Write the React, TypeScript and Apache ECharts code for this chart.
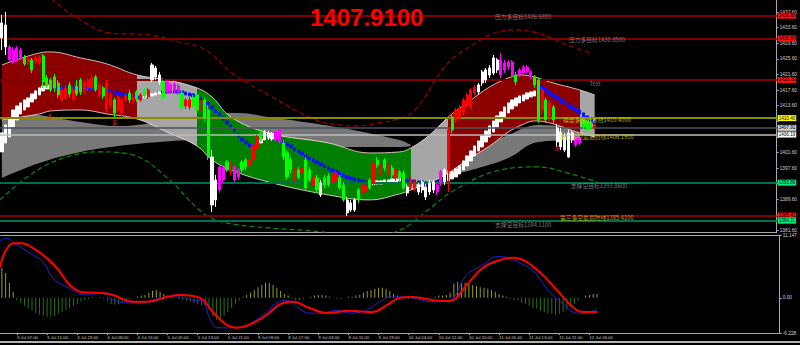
import React, { useEffect, useRef } from "react";
import * as echarts from "echarts";

// ---------- axis definitions ----------
const SLOT_COUNT = 207; // bar slots across the main chart width (incl. right shift space)
const timeLabels = [
  "3 Jul 07:00", "3 Jul 15:00", "3 Jul 23:00", "4 Jul 08:00", "4 Jul 16:00",
  "5 Jul 05:00", "5 Jul 13:00", "5 Jul 21:00", "8 Jul 09:00", "8 Jul 17:00",
  "9 Jul 03:00", "9 Jul 11:00", "9 Jul 19:00", "10 Jul 04:00", "10 Jul 12:00",
  "10 Jul 20:00", "11 Jul 05:00", "11 Jul 13:00", "11 Jul 21:00", "12 Jul 06:00",
];
const timeLabelBars = [4, 12, 20, 28, 36, 44, 52, 60, 68, 76, 84, 92, 100, 108, 116, 124, 132, 140, 148, 156];
const priceTicks = [1381.6, 1385.6, 1389.6, 1393.6, 1397.6, 1401.6, 1405.6, 1409.6, 1413.6, 1417.6, 1421.6, 1425.6, 1429.6, 1433.6, 1437.6];
// tick labels left visible (the others sit under the level boxes)
const priceLabels = [1381.6, 1389.6, 1397.6, 1401.6, 1413.6, 1417.6, 1421.6, 1425.6, 1429.6, 1433.6, 1437.6];
const macdTicks = [-6.228, 0, 11.147];
const lastPriceText = "1407.9100";

// ---------- candles: [open, close, low, high] ----------
const candles = [
  [1434.81, 1430.97, 1427.89, 1436.86], [1434.30, 1428.66, 1426.61, 1437.63], [1428.66, 1425.33, 1424.81, 1429.17], [1427.89, 1424.81, 1424.30, 1428.66], [1428.40, 1425.84, 1424.81, 1428.92],
  [1427.89, 1426.09, 1425.33, 1428.40], [1426.09, 1424.30, 1423.79, 1426.61], [1425.58, 1424.56, 1424.04, 1426.09], [1425.33, 1422.76, 1421.99, 1425.84], [1425.84, 1424.81, 1424.30, 1426.35],
  [1426.09, 1424.56, 1424.04, 1426.61], [1426.35, 1419.68, 1418.15, 1426.86], [1420.71, 1418.66, 1418.15, 1421.48], [1420.20, 1417.63, 1417.12, 1420.71], [1420.97, 1418.15, 1417.12, 1421.73],
  [1419.43, 1416.35, 1415.58, 1420.20], [1417.63, 1415.07, 1414.56, 1418.40], [1418.15, 1415.58, 1415.07, 1418.92], [1418.92, 1416.61, 1415.84, 1419.68], [1417.63, 1415.33, 1414.81, 1418.40],
  [1418.66, 1416.61, 1416.09, 1420.20], [1420.20, 1417.12, 1416.35, 1420.71], [1419.43, 1417.63, 1416.86, 1420.20], [1420.20, 1418.15, 1417.38, 1420.71], [1420.71, 1418.15, 1417.63, 1421.48],
  [1420.97, 1417.63, 1417.12, 1421.48], [1418.92, 1416.35, 1415.58, 1419.68], [1418.15, 1416.09, 1415.33, 1418.66], [1419.43, 1412.50, 1411.99, 1420.20], [1416.35, 1413.79, 1413.02, 1417.12],
  [1415.07, 1411.74, 1410.71, 1415.58], [1415.84, 1412.50, 1411.99, 1416.35], [1415.07, 1411.74, 1410.97, 1415.58], [1416.09, 1415.07, 1414.56, 1416.61], [1416.86, 1415.07, 1414.30, 1417.63],
  [1415.84, 1414.81, 1414.04, 1416.61], [1417.12, 1415.33, 1414.56, 1417.63], [1416.35, 1415.07, 1414.56, 1416.86], [1417.63, 1416.09, 1415.58, 1418.15], [1417.63, 1415.84, 1415.33, 1418.15],
  [1424.04, 1420.20, 1419.68, 1424.56], [1423.27, 1420.97, 1420.20, 1423.79], [1421.48, 1419.68, 1418.92, 1422.25], [1419.68, 1415.84, 1415.07, 1420.20], [1419.68, 1417.12, 1416.61, 1420.20],
  [1418.92, 1417.38, 1416.61, 1419.43], [1419.17, 1417.63, 1416.86, 1419.68], [1418.66, 1417.12, 1416.35, 1419.17], [1416.86, 1413.02, 1411.99, 1417.63], [1415.07, 1413.53, 1412.76, 1415.58],
  [1415.07, 1413.27, 1412.50, 1415.84], [1415.58, 1413.53, 1413.02, 1416.35], [1416.35, 1412.50, 1411.74, 1416.86], [1414.30, 1412.50, 1411.99, 1415.07], [1415.07, 1410.45, 1409.68, 1415.58],
  [1412.50, 1400.45, 1399.68, 1413.79], [1400.45, 1388.15, 1386.35, 1402.25], [1394.55, 1389.43, 1387.63, 1395.84], [1397.89, 1391.99, 1391.22, 1398.40], [1397.63, 1394.55, 1393.79, 1398.40],
  [1399.17, 1397.12, 1396.61, 1399.68], [1398.66, 1396.61, 1395.84, 1399.17], [1397.89, 1394.55, 1394.04, 1398.40], [1397.12, 1395.33, 1394.55, 1397.63], [1399.17, 1397.12, 1396.35, 1399.68],
  [1399.68, 1397.89, 1397.12, 1400.20], [1399.68, 1398.15, 1397.63, 1400.45], [1403.53, 1399.68, 1399.17, 1404.81], [1405.33, 1403.02, 1402.25, 1406.09], [1406.61, 1404.81, 1404.30, 1407.38],
  [1406.86, 1405.58, 1405.07, 1407.38], [1406.61, 1405.33, 1404.81, 1407.12], [1406.35, 1405.07, 1404.55, 1406.86], [1406.86, 1404.81, 1404.30, 1407.38], [1407.38, 1404.30, 1403.79, 1407.89],
  [1404.04, 1400.45, 1399.68, 1404.81], [1401.48, 1395.33, 1394.55, 1402.25], [1399.68, 1397.12, 1396.35, 1400.45], [1397.12, 1394.55, 1394.04, 1397.63], [1397.12, 1395.33, 1394.81, 1397.89],
  [1397.63, 1396.35, 1395.58, 1398.40], [1399.68, 1392.50, 1391.99, 1400.45], [1397.12, 1394.55, 1394.04, 1397.89], [1395.33, 1393.27, 1392.76, 1396.09], [1395.07, 1391.99, 1391.22, 1395.84],
  [1393.79, 1390.71, 1390.20, 1394.55], [1395.07, 1393.27, 1392.50, 1395.84], [1395.58, 1393.27, 1392.76, 1396.35], [1395.84, 1393.79, 1393.02, 1396.61], [1396.35, 1394.04, 1393.53, 1397.12],
  [1395.07, 1392.50, 1391.99, 1395.84], [1393.27, 1389.43, 1388.92, 1394.04], [1389.43, 1386.10, 1385.33, 1390.20], [1388.66, 1386.86, 1386.35, 1389.43], [1389.43, 1386.86, 1386.35, 1389.94],
  [1391.99, 1389.43, 1388.66, 1392.50], [1393.27, 1391.22, 1390.45, 1393.79], [1393.27, 1391.48, 1390.71, 1393.79], [1394.55, 1392.50, 1391.99, 1395.07], [1398.92, 1393.79, 1393.02, 1399.68],
  [1399.68, 1398.40, 1397.63, 1400.45], [1398.40, 1396.35, 1395.58, 1398.92], [1399.68, 1397.63, 1396.86, 1400.20], [1398.40, 1396.61, 1395.84, 1398.92], [1397.63, 1395.84, 1395.07, 1398.40],
  [1397.12, 1395.07, 1394.30, 1397.63], [1396.61, 1395.07, 1394.30, 1397.12], [1396.35, 1392.50, 1391.99, 1397.12], [1392.76, 1391.22, 1390.45, 1393.53], [1394.55, 1392.76, 1391.99, 1395.07],
  [1394.04, 1392.50, 1391.74, 1394.55], [1393.27, 1391.48, 1390.71, 1393.79], [1394.04, 1391.99, 1391.22, 1394.55], [1392.76, 1390.20, 1389.43, 1393.53], [1393.79, 1391.48, 1390.71, 1394.55],
  [1394.04, 1391.99, 1391.22, 1394.55], [1393.27, 1391.48, 1390.71, 1393.79], [1396.61, 1393.79, 1393.02, 1397.12], [1397.12, 1394.55, 1393.27, 1397.63], [1407.38, 1397.12, 1391.48, 1407.89],
  [1410.71, 1407.38, 1406.61, 1411.48], [1412.50, 1409.94, 1409.17, 1413.02], [1413.02, 1410.45, 1409.68, 1413.79], [1415.07, 1411.74, 1410.97, 1415.58], [1416.35, 1413.79, 1413.02, 1416.86],
  [1417.63, 1413.27, 1412.50, 1418.15], [1418.40, 1416.86, 1416.09, 1418.92], [1418.92, 1417.12, 1416.35, 1419.43], [1422.25, 1419.43, 1418.66, 1422.76], [1422.76, 1420.20, 1419.43, 1423.27],
  [1423.27, 1421.48, 1420.71, 1424.04], [1425.84, 1421.99, 1421.48, 1426.61], [1425.33, 1422.76, 1421.99, 1425.84], [1425.33, 1421.48, 1420.71, 1427.12], [1424.56, 1422.76, 1421.99, 1425.33],
  [1424.81, 1423.53, 1422.76, 1425.33], [1424.81, 1421.48, 1420.71, 1425.33], [1421.48, 1419.68, 1418.92, 1422.25], [1422.76, 1421.48, 1420.97, 1423.27], [1423.53, 1421.99, 1421.48, 1424.04],
  [1423.53, 1422.25, 1421.73, 1424.04], [1422.25, 1420.97, 1420.45, 1422.76], [1420.97, 1418.92, 1418.15, 1421.48], [1420.20, 1409.94, 1409.17, 1420.71], [1417.63, 1412.50, 1411.22, 1418.40],
  [1415.07, 1409.94, 1409.17, 1415.58], [1414.30, 1410.45, 1409.68, 1415.07], [1413.27, 1409.94, 1408.91, 1413.79], [1407.89, 1404.30, 1403.02, 1408.91], [1406.86, 1403.02, 1402.25, 1407.89],
  [1405.58, 1402.25, 1401.74, 1406.61], [1406.61, 1400.45, 1400.20, 1407.38], [1406.61, 1404.81, 1404.04, 1407.12], [1405.58, 1403.53, 1403.02, 1406.09], [1405.33, 1404.04, 1403.53, 1405.84],
  [1409.94, 1408.15, 1407.63, 1410.45], [1409.17, 1407.38, 1406.86, 1409.94], [1409.43, 1407.89, 1407.38, 1410.20], [1408.66, 1407.91, 1407.63, 1408.91],
];
// W white, R red, G green, M magenta (indicator colouring of each candle)
const candleColors =
  "WWMMMMGRGR" + "RGGGGGRRGR" + "GGRRRGRGRR" + "GRRRGRGRGR" + "WWWGMMMMGR" +
  "RGGRGGWWMM" + "GRMMGGRRRG" + "WWWMMGGGRG" + "RGGRGWGGRR" + "GGWWWGRRGR" +
  "GRGRGRGGWR" + "RWWWWWMMWR" + "GRRRRRRWWW" + "WWWMMMMGMM" + "MMGGRGRGWW" + "WWWMMGGGR";

// ---------- trend blocks (white rising / blue falling) ----------
const maTop = [
  1406.61, 1408.66, 1410.45, 1412.50, 1413.53, 1414.30, 1415.07, 1415.58, 1416.61, 1417.38, 1418.15, 1418.66, 1418.92,
  1418.66, 1418.66,
  1418.40, 1418.40, 1418.40, 1418.40, 1418.40, 1418.40, 1418.40, 1418.40, 1418.40, 1418.40, 1418.40,
  1418.15, 1418.15,
  1417.89, 1417.63, 1417.38, 1417.12, 1416.86, 1416.61, 1416.35, 1416.35, 1416.09, 1416.09,
  1416.09, 1416.35, 1416.61, 1416.86, 1417.12,
  1417.38,
  1417.63, 1417.63, 1417.63, 1417.63,
  1417.38, 1417.12, 1416.86, 1416.61, 1416.09, 1415.84, 1415.33, 1414.56, 1413.53, 1412.50, 1411.74, 1410.71, 1409.68, 1408.66, 1407.63, 1406.35, 1405.33, 1404.55, 1403.79, 1403.53,
  1404.30, 1405.07, 1405.84, 1406.35, 1406.35,
  1405.58, 1405.07, 1404.55, 1404.04, 1403.53, 1402.76, 1402.25, 1401.74, 1400.97, 1400.45, 1399.94, 1399.43, 1398.92, 1398.40, 1397.89, 1397.38, 1397.12, 1396.61, 1396.09, 1395.58, 1395.33, 1395.07, 1394.81, 1394.55, 1394.30, 1394.04,
  1394.04, 1394.30, 1394.30, 1394.55, 1394.55, 1394.81, 1394.81, 1395.07,
  1395.07, 1394.81, 1394.55, 1394.55, 1394.30, 1394.30, 1394.04, 1394.04, 1394.04, 1394.30, 1394.55,
  1395.58, 1396.09, 1396.61, 1397.38, 1398.15, 1399.43, 1400.71, 1401.99, 1403.27, 1404.55, 1405.84, 1407.12, 1408.40, 1409.68, 1410.97, 1411.99, 1413.27, 1414.30, 1415.07, 1415.58, 1416.09, 1416.35, 1416.86, 1417.12, 1417.38,
  1419.17, 1418.66, 1418.15, 1417.38, 1416.61, 1416.09, 1415.33, 1414.81, 1414.30, 1413.79, 1413.02, 1412.50, 1411.74, 1410.97, 1410.20, 1409.43,
];
const maBottom = [
  1401.74, 1404.04, 1405.58, 1408.15, 1409.94, 1411.48, 1412.50, 1413.27, 1414.56, 1415.33, 1416.35, 1417.38, 1417.89,
  1417.89, 1417.89,
  1417.63, 1417.63, 1417.63, 1417.63, 1417.63, 1417.63, 1417.63, 1417.63, 1417.63, 1417.63, 1417.63,
  1417.38, 1417.38,
  1417.12, 1416.86, 1416.61, 1416.35, 1416.09, 1415.84, 1415.58, 1415.58, 1415.33, 1415.33,
  1415.58, 1415.84, 1416.09, 1416.35, 1416.61,
  1416.86,
  1416.86, 1416.86, 1416.86, 1416.86,
  1416.61, 1416.35, 1416.09, 1415.84, 1415.33, 1415.07, 1414.56, 1413.79, 1412.76, 1411.74, 1410.97, 1409.94, 1408.91, 1407.89, 1406.86, 1405.58, 1404.55, 1403.79, 1403.02, 1402.76,
  1403.27, 1404.04, 1404.81, 1405.33, 1405.58,
  1404.81, 1404.30, 1403.79, 1403.27, 1402.76, 1401.99, 1401.48, 1400.97, 1400.20, 1399.68, 1399.17, 1398.66, 1398.15, 1397.63, 1397.12, 1396.61, 1396.35, 1395.84, 1395.33, 1394.81, 1394.55, 1394.30, 1394.04, 1393.79, 1393.53, 1393.27,
  1393.27, 1393.53, 1393.53, 1393.79, 1393.79, 1394.04, 1394.04, 1394.30,
  1394.30, 1394.04, 1393.79, 1393.79, 1393.53, 1393.53, 1393.27, 1393.27, 1393.27, 1393.53, 1393.79,
  1393.79, 1394.30, 1394.81, 1395.33, 1396.09, 1397.12, 1398.15, 1399.43, 1400.71, 1401.99, 1403.02, 1404.30, 1405.58, 1406.86, 1408.15, 1409.43, 1410.71, 1411.74, 1412.76, 1413.53, 1414.30, 1414.81, 1415.33, 1415.84, 1416.09,
  1418.15, 1417.63, 1417.12, 1416.35, 1415.58, 1415.07, 1414.30, 1413.79, 1413.27, 1412.76, 1411.99, 1411.48, 1410.71, 1409.94, 1409.17, 1408.40,
];
const maRuns: [string, number][] = [["W", 13], ["B", 25], ["W", 5], ["B", 25], ["W", 5], ["B", 26], ["W", 8], ["B", 11], ["W", 25], ["B", 16]];

// ---------- channel (coloured band) ----------
const channelBars = [0, 10, 13, 21, 28, 36, 44, 52, 56, 61, 71, 87, 98, 106, 109, 114, 119, 124, 130, 135, 138, 142, 146, 154, 158];
const channelUpper = [1424.04, 1427.12, 1427.38, 1425.84, 1424.30, 1421.48, 1420.20, 1418.15, 1415.84, 1410.71, 1406.61, 1404.04, 1401.48, 1401.74, 1402.76, 1406.09, 1410.71, 1414.30, 1418.40, 1420.71, 1421.48, 1420.97, 1419.68, 1417.63, 1416.35];
const channelLower = [1409.94, 1411.48, 1412.25, 1412.50, 1411.48, 1410.20, 1406.86, 1403.27, 1399.68, 1397.12, 1394.04, 1390.71, 1389.43, 1390.97, 1391.99, 1393.79, 1396.35, 1399.68, 1403.27, 1406.86, 1408.40, 1409.68, 1409.17, 1406.61, 1405.58];
// trend state of the channel: bar index where each section starts
const channelSectionStart = [0, 36, 52, 109, 119, 154];
const channelSectionState = ["up", "flat", "down", "flat", "up", "flat"];

// ---------- shadow band (grey) ----------
const shadeBars1 = [0, 10, 21, 31, 42, 53, 63, 71, 89, 106, 109];
const shadeUpper1 = [1413.02, 1411.22, 1409.43, 1408.40, 1409.43, 1411.22, 1411.74, 1410.71, 1408.15, 1404.81, 1403.53];
const shadeLower1 = [1395.07, 1398.92, 1401.74, 1403.27, 1404.30, 1404.81, 1404.55, 1404.04, 1403.02, 1403.02, 1403.27];
const shadeBars2 = [119, 127, 135, 143, 154];
const shadeUpper2 = [1399.68, 1402.76, 1406.09, 1408.66, 1407.89];
const shadeLower2 = [1395.58, 1397.63, 1400.20, 1404.30, 1404.81];

// ---------- outer envelopes (dashed) [bar, price] ----------
const outerUpper = [
  [10.1, 1443.8], [13.6, 1440.71], [18.9, 1436.86], [28.7, 1432.25], [39.3, 1431.74], [47.2, 1429.94], [54.4, 1427.89],
  [61.3, 1421.99], [71.1, 1416.35], [82.5, 1410.45], [89.7, 1408.66], [95, 1408.4], [100.3, 1409.17], [104.8, 1409.94],
  [110.1, 1412.5], [118.9, 1424.56], [126.8, 1429.94], [131.3, 1432.25], [136.6, 1433.02], [142.7, 1432.25], [150.7, 1429.17], [156.8, 1427.12],
];
const outerLower = [
  [-0.5, 1389.43], [8.3, 1396.35], [17.3, 1400.45], [26, 1401.74], [34.8, 1400.97], [43.8, 1395.33], [52.6, 1386.86],
  [57, 1384.3], [63.2, 1383.02], [71.1, 1382.25], [85.2, 1381.22], [95, 1379.69], [105.6, 1381.48], [113.6, 1386.86],
  [120.7, 1391.99], [132.9, 1397.12], [142.7, 1397.89], [150.7, 1396.35], [158.6, 1394.04],
];

// ---------- horizontal levels ----------
const levelValues = [1436.68, 1430.85, 1420.2, 1410.4, 1407.91, 1406.19, 1393.86, 1385.41, 1384.11];
const levelKinds = ["resist", "resist", "resist", "pivot", "bid", "defense", "support", "resist", "support"];

// ---------- text annotations ----------
const annotationTexts = ["压力多目标1436.6800", "压力多目标1430.8500", "Text", "操盘多空分水线1410.4000", "第二多空最后防线1406.1900", "支撑空目标1393.8600", "第三多空最后防线1385.4100", "支撑空目标1384.1100"];
const annotationBar = [131.3, 151, 156.5, 149.4, 148.6, 151.5, 148.6, 131.3];
const annotationPrice = [1436.35, 1430.45, 1419.17, 1409.94, 1405.58, 1393.02, 1384.81, 1383.02];
const annotationTone = ["gray", "gray", "gray", "yellow", "yellow", "gray", "yellow", "gray"];
const signalBar = [12.8, 30, 148];
const signalPrice = [1410.71, 1409.17, 1402.76];

// ---------- MACD ----------
const macdHist = [
  5.3, 4.4, 2.7, 1.1, -0.4, -0.9, -1.4, -1.9, -2.3, -2.7,
  -3.0, -3.2, -3.4, -3.4, -3.2, -2.8, -2.5, -2.1, -1.8, -1.4,
  -1.1, -0.7, -0.4, -0.2, 0.1, 0, 0.1, -0.1, -0.5, -1.1,
  -1.2, -1.1, -0.7, -0.4, -0.2, 0, 0.2, 0.4, 0.5, 0.9,
  1.2, 1.4, 1.1, 0.7, 0.4, 0.2, 0, -0.2, -0.4, -0.5,
  -0.7, -0.9, -1.1, -1.2, -1.4, -2.1, -3.2, -3.9, -3.7, -3.2,
  -2.5, -1.8, -1.1, -0.5, 0.2, 0.5, 0.9, 1.4, 1.9, 2.3,
  2.7, 2.7, 2.3, 1.8, 1.2, 0.7, 0.4, -0.2, -0.4, -0.4,
  -0.2, 0, 0.2, 0.4, 0.5, 0.5, 0.4, 0.2, 0, -0.2,
  -0.2, 0, 0.2, 0.2, 0.4, 0.5, 0.9, 1.2, 1.4, 1.6,
  1.8, 1.8, 1.6, 1.2, 0.7, 0.4, 0.2, 0, -0.2, -0.2,
  0, 0.2, 0, -0.2, 0, 0.2, 0.4, 0.4, 0.5, 0.9,
  2.5, 2.8, 2.8, 2.7, 2.5, 2.3, 2.1, 1.9, 1.8, 1.6,
  1.4, 1.1, 0.7, 0.4, 0.2, -0.2, -0.4, -0.5, -0.9, -1.1,
  -1.4, -1.8, -1.9, -2.3, -2.5, -2.7, -2.8, -3.0, -2.8, -2.5,
  -2.1, -1.6, -1.1, -0.5, 0, 0.4, 0.5, 0.7, 0.7,
];
const macdMain = [
  [-0.5, 10.1], [1, 10.6], [4, 9.4], [8.3, 7.6], [10.9, 6.4], [13.6, 3.5], [17.3, 1.9], [22.6, 0.5], [26, 0.9], [29.5, -0.4],
  [33.2, -0.9], [36.6, -0.9], [40, -0.4], [43.8, 0.15], [47.2, 0.15], [50.7, -0.4], [53.3, -0.7], [55.2, -3.6], [57, -5.3], [59.7, -5.3],
  [63.2, -5.2], [66.6, -4.3], [70.3, -2.5], [73, -0.9], [75.6, -0.4], [78.3, -1.6], [81.7, -2.7], [85.2, -2.7], [88.9, -2.2], [92.3, -2.7],
  [96.8, -2.2], [100.3, -0.7], [103, 0.15], [105.6, 0.15], [109, 0], [114.4, -0.7], [118.9, -0.4], [123.4, 4.1], [127.6, 5.8], [131.3, 7.3],
  [134.8, 7.1], [137.4, 6.2], [140.9, 4.9], [145.4, 1.0], [148.8, -0.9], [152.5, -2.7], [155.2, -2.7], [158, -1.8],
];
const macdSignal = [
  [-0.5, 5.4], [0.8, 8.1], [3, 9.7], [5.3, 9.7], [8.3, 8.8], [10.9, 7.6], [14.6, 5.3], [18, 2.3], [21.5, 1.0], [26, 0.9],
  [29.5, 0.5], [34.8, -0.7], [38.5, -0.7], [43.8, 0.15], [47.2, 0.5], [52.6, 0], [56, -2.5], [59.7, -4.8], [62.4, -5.3], [66.6, -4.5],
  [70.3, -3.0], [74.6, -0.9], [77.2, -0.7], [81.7, -1.8], [86.2, -2.7], [92.3, -2.3], [98.4, -2.5], [102.2, -1.3], [105.6, 0], [109, 0.15],
  [114.4, -0.4], [118.9, -0.55], [123.4, 2.3], [127.6, 5.3], [132.1, 6.7], [135.6, 7.1], [139.3, 6.4], [143.5, 4.1], [148, 0.9], [151.5, -1.6],
  [154.2, -2.5], [158.1, -2.5],
];

// ---------- styles ----------
const FONT = '"Liberation Sans", Arial, sans-serif';
const CJK = '"Noto Sans CJK SC", "Liberation Sans", sans-serif';
const AXIS = "#a8a8a8";
const CANDLE: Record<string, string> = { W: "#ffffff", R: "#ff0000", G: "#00ff00", M: "#ff00ff", B: "#1010ff" };
const STATE_FILL: Record<string, string> = { up: "#8c0000", flat: "#a6a6a6", down: "#007f00" };
const EDGE = "rgba(255,228,228,0.8)";
const SHADE = "#787878";
const LEVEL_STYLE: Record<string, { line: string; width: number; box: string }> = {
  resist: { line: "#7e0000", width: 2, box: "#ff1010" },
  pivot: { line: "#8a8a00", width: 2, box: "#ffff00" },
  bid: { line: "#4a525c", width: 1.5, box: "#cfcfcf" },
  defense: { line: "#bdbdbd", width: 1.5, box: "#ffffff" },
  support: { line: "#00704a", width: 2, box: "#00f080" },
};
const TONE: Record<string, string> = { gray: "#9a9a9a", yellow: "#d8d800" };

function buildOption() {
  const slots = Array.from({ length: SLOT_COUNT }, (_, i) => String(i));
  const maColors = maRuns.map(([c, n]) => c.repeat(n)).join("");

  const candleItems = candles.map((c, i) => {
    const col = CANDLE[candleColors[i]] || "#ffffff";
    return { value: c, itemStyle: { color: col, color0: col, borderColor: col, borderColor0: col } };
  });
  const maItems = maTop.map((t, i) => {
    const col = CANDLE[maColors[i]] || "#ffffff";
    const b = maBottom[i];
    return { value: [t, b, b, t], itemStyle: { color: col, color0: col, borderColor: col, borderColor0: col } };
  });

  const bandPair = (bars: number[], upper: number[], lower: number[], stack: string, fill: any, edge: any, z: number) => [
    {
      type: "line", xAxisIndex: 0, yAxisIndex: 0, stack, smooth: 0.4, symbol: "none", z, silent: true,
      data: bars.map((x, k) => [x, lower[k]]),
      lineStyle: edge ? { color: edge, width: 1 } : { width: 0, opacity: 0 },
    },
    {
      type: "line", xAxisIndex: 0, yAxisIndex: 0, stack, smooth: 0.4, symbol: "none", z, silent: true,
      data: bars.map((x, k) => [x, +(upper[k] - lower[k]).toFixed(2)]),
      lineStyle: edge ? { color: edge, width: 1 } : { width: 0, opacity: 0 },
      areaStyle: fill ? { color: fill, opacity: 1 } : { opacity: 1 },
    },
  ];

  const series: any[] = [];
  series.push(...bandPair(shadeBars1, shadeUpper1, shadeLower1, "shade1", SHADE, null, 1)); // 0,1
  series.push(...bandPair(shadeBars2, shadeUpper2, shadeLower2, "shade2", SHADE, null, 1)); // 2,3
  series.push(...bandPair(channelBars, channelUpper, channelLower, "channel", null, EDGE, 2)); // 4,5
  const channelFillIndex = 5;

  series.push({
    type: "line", xAxisIndex: 1, yAxisIndex: 0, smooth: 0.4, symbol: "none", z: 3, silent: true,
    data: outerUpper,
    lineStyle: { color: "#9a0000", width: 1.2, type: [5, 3] },
    markLine: {
      silent: true, symbol: ["none", "none"], animation: false,
      data: levelValues.map((v, k) => {
        const s = LEVEL_STYLE[levelKinds[k]];
        return {
          yAxis: v,
          lineStyle: { color: s.line, width: s.width, type: "solid" },
          label: {
            show: true, position: "end", distance: 1, formatter: v.toFixed(2),
            backgroundColor: s.box, color: "#000", fontSize: 4.6, fontFamily: FONT, padding: [1, 1, 0, 1],
          },
        };
      }),
    },
  });
  series.push({
    type: "line", xAxisIndex: 1, yAxisIndex: 0, smooth: 0.4, symbol: "none", z: 3, silent: true,
    data: outerLower,
    lineStyle: { color: "#0a8a0a", width: 1.2, type: [5, 3] },
  });
  series.push({
    type: "candlestick", xAxisIndex: 0, yAxisIndex: 0, z: 4, barWidth: 3, silent: true, data: maItems,
  });
  series.push({
    type: "candlestick", xAxisIndex: 0, yAxisIndex: 0, z: 5, barWidth: 2.6, silent: true, data: candleItems,
  });
  series.push({
    type: "scatter", xAxisIndex: 1, yAxisIndex: 0, z: 6, symbolSize: 1, silent: true,
    itemStyle: { color: "rgba(0,0,0,0)" },
    label: { show: true, position: "right", distance: 0, formatter: "{b}", fontFamily: CJK, fontSize: 5.8 },
    data: annotationTexts.map((t, k) => ({
      name: t, value: [annotationBar[k], annotationPrice[k]],
      label: { color: TONE[annotationTone[k]] },
    })),
  });
  series.push({
    type: "scatter", xAxisIndex: 1, yAxisIndex: 0, z: 6, symbolSize: 1, silent: true,
    itemStyle: { color: "rgba(0,0,0,0)" },
    label: { show: true, position: "inside", formatter: "多", fontFamily: CJK, fontSize: 6, color: "#ff2a2a" },
    data: signalBar.map((b, k) => [b, signalPrice[k]]),
  });
  // MACD
  series.push({
    type: "bar", xAxisIndex: 2, yAxisIndex: 1, barWidth: 1, silent: true, z: 2,
    data: macdHist.map((v, i) => [i, v]),
    itemStyle: { color: (p: any) => (p.value[1] >= 0 ? "#9c9c22" : "#2f6e16") },
  });
  series.push({
    type: "line", xAxisIndex: 2, yAxisIndex: 1, smooth: 0.4, symbol: "none", z: 3, silent: true,
    data: macdMain, lineStyle: { color: "#2424d8", width: 1 },
  });
  series.push({
    type: "line", xAxisIndex: 2, yAxisIndex: 1, smooth: 0.4, symbol: "none", z: 4, silent: true,
    data: macdSignal, lineStyle: { color: "#ff0000", width: 2 },
  });

  const pieces = channelSectionStart.map((s, k) => {
    const next = channelSectionStart[k + 1];
    const p: any = { gte: s, color: STATE_FILL[channelSectionState[k]] };
    if (next !== undefined) p.lt = next;
    return p;
  });
  pieces[0].gte = -1000;

  return {
    backgroundColor: "#000000",
    animation: false,
    grid: [
      { left: 0, top: 0, width: 781, height: 232 },
      { left: 0, top: 235, width: 781, height: 98 },
    ],
    visualMap: [
      { type: "piecewise", show: false, dimension: 0, seriesIndex: channelFillIndex, pieces },
    ],
    xAxis: [
      { type: "category", gridIndex: 0, data: slots, show: false, position: "top", boundaryGap: true },
      {
        type: "value", gridIndex: 0, min: -0.5, max: SLOT_COUNT - 0.5, position: "bottom",
        axisLine: { show: true, onZero: false, lineStyle: { color: AXIS, width: 1 } },
        axisTick: { show: false }, axisLabel: { show: false }, splitLine: { show: false },
      },
      {
        type: "value", gridIndex: 1, min: -0.5, max: SLOT_COUNT - 0.5, position: "bottom",
        axisLine: { show: true, onZero: false, lineStyle: { color: AXIS, width: 1 } },
        axisTick: { show: true, length: 2, customValues: timeLabelBars, lineStyle: { color: AXIS } },
        axisLabel: {
          customValues: timeLabelBars, align: "left", margin: 2, fontSize: 4.3, color: "#c8c8c8", fontFamily: FONT,
          formatter: (v: number) => timeLabels[timeLabelBars.indexOf(Math.round(v))] || "",
        },
        splitLine: { show: false },
      },
      {
        type: "value", gridIndex: 1, min: -0.5, max: SLOT_COUNT - 0.5, position: "top",
        axisLine: { show: true, onZero: false, lineStyle: { color: AXIS, width: 1 } },
        axisTick: { show: false }, axisLabel: { show: false }, splitLine: { show: false },
      },
    ],
    yAxis: [
      {
        type: "value", gridIndex: 0, position: "right", min: 1381.2, max: 1440.7,
        axisLine: { show: true, onZero: false, lineStyle: { color: AXIS } },
        axisTick: { show: true, length: 2, customValues: priceTicks, lineStyle: { color: AXIS } },
        axisLabel: { customValues: priceLabels, formatter: (v: number) => v.toFixed(2), fontSize: 4.8, color: "#d0d0d0", margin: 3, fontFamily: FONT },
        splitLine: { show: false },
      },
      {
        type: "value", gridIndex: 1, position: "right", min: -6.228, max: 11.147,
        axisLine: { show: true, onZero: false, lineStyle: { color: AXIS } },
        axisTick: { show: true, length: 2, customValues: macdTicks, lineStyle: { color: AXIS } },
        axisLabel: {
          customValues: macdTicks, fontSize: 4.8, color: "#d0d0d0", margin: 3, fontFamily: FONT,
          formatter: (v: number) => (v === 0 ? "0.00" : String(v)),
        },
        splitLine: { show: false },
      },
    ],
    graphic: [
      {
        type: "text", left: 310, top: 5, z: 100,
        style: { text: lastPriceText, fill: "#ff0000", fontSize: 24, fontWeight: "bold", fontFamily: FONT },
      },
      { type: "rect", shape: { x: 0, y: 341, width: 800, height: 2 }, style: { fill: "#b4b4b4" }, z: 100 },
    ],
    series,
  };
}

export default function App() {
  const ref = useRef<HTMLDivElement>(null);
  useEffect(() => {
    if (!ref.current) return;
    const chart = echarts.init(ref.current, null, { renderer: "svg" });
    chart.setOption(buildOption() as any);
    return () => chart.dispose();
  }, []);
  return (
    <div style={{ position: "fixed", left: 0, top: 0, width: 800, height: 345, background: "#000" }}>
      <div ref={ref} style={{ width: 800, height: 345 }} />
    </div>
  );
}
